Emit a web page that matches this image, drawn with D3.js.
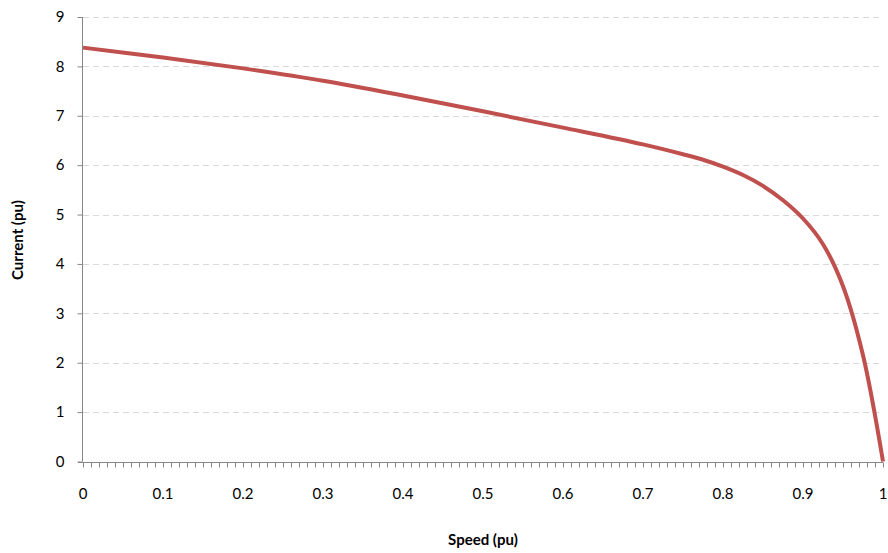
<!DOCTYPE html>
<html>
<head>
<meta charset="utf-8">
<script src="https://cdn.jsdelivr.net/npm/d3@7"></script>
<style>
  body { margin: 0; background: #fff; }
  svg text { font-family: Lato, "Open Sans", sans-serif; }
</style>
</head>
<body>
<div class="container"></div>
<script>
// speed / current
const speed   = [0, 0.1, 0.2, 0.3, 0.4, 0.5, 0.6, 0.7, 0.75, 0.775, 0.8, 0.825, 0.85, 0.875, 0.9, 0.925, 0.95, 0.975, 1.0];
const current = [8.38, 8.18, 7.96, 7.71, 7.41, 7.09, 6.76, 6.42, 6.22, 6.11, 5.97, 5.80, 5.58, 5.29, 4.92, 4.40, 3.55, 2.15, 0];
const xTicks = [0, 0.1, 0.2, 0.3, 0.4, 0.5, 0.6, 0.7, 0.8, 0.9, 1];
const yTicks = [0, 1, 2, 3, 4, 5, 6, 7, 8, 9];

const width = 888, height = 553,
    margin = {top: 17, right: 5, bottom: 91, left: 83};

const svg = d3.select('.container')
    .append('svg')
    .attr('width', width)
    .attr('height', height);

const xScale = d3.scaleLinear()
    .domain([0, 1])
    .range([margin.left, width - margin.right]);

const yScale = d3.scaleLinear()
    .domain([0, 9])
    .range([height - margin.bottom - 0.5, margin.top]);

// gridlines
svg.append('g')
    .selectAll('line')
    .data(yTicks.slice(1))
    .join('line')
    .attr('x1', xScale(0))
    .attr('x2', xScale(1))
    .attr('y1', d => Math.round(yScale(d)) + 0.5)
    .attr('y2', d => Math.round(yScale(d)) + 0.5)
    .attr('stroke', '#d9d9d9')
    .attr('stroke-width', 1)
    .attr('stroke-dasharray', '6,4');

// x axis with minor ticks every 0.01
const xAxis = d3.axisBottom(xScale)
    .tickValues(d3.range(0, 101).map(i => i / 100))
    .tickSize(5)
    .tickFormat('');

const gx = svg.append('g')
    .attr('transform', `translate(0,${Math.round(yScale(0)) + 0.5})`)
    .call(xAxis);
gx.select('.domain').attr('stroke', '#868686').attr('d', `M${xScale(0) - 5},0H${xScale(1)}`);
gx.selectAll('.tick line').attr('stroke', '#868686');

svg.append('g')
    .selectAll('text')
    .data(xTicks)
    .join('text')
    .attr('x', d => xScale(d))
    .attr('y', 499)
    .attr('text-anchor', 'middle')
    .attr('font-size', 15)
    .attr('fill', '#000')
    .text(d => d);

// y axis
const yAxis = d3.axisLeft(yScale)
    .tickValues(yTicks)
    .tickSize(5)
    .tickPadding(13)
    .tickFormat(d => d);

const gy = svg.append('g')
    .attr('transform', `translate(${Math.round(xScale(0)) - 0.5},0)`)
    .call(yAxis);
gy.select('.domain').attr('stroke', '#868686').attr('d', `M0,${yScale(9)}V${yScale(0)}`);
gy.selectAll('.tick line').attr('stroke', '#868686');
gy.selectAll('.tick text')
    .attr('font-size', 15)
    .attr('fill', '#000')
    .style('font-family', 'Lato, sans-serif');

// curve
const line = d3.line()
    .x((d, i) => xScale(speed[i]))
    .y(d => yScale(d))
    .curve(d3.curveCatmullRom.alpha(0.5));

svg.append('path')
    .datum(current)
    .attr('d', line)
    .attr('fill', 'none')
    .attr('stroke', '#c0504d')
    .attr('stroke-width', 4)
    .attr('stroke-linejoin', 'round');

// axis titles
svg.append('text')
    .attr('x', 483)
    .attr('y', 545)
    .attr('text-anchor', 'middle')
    .attr('font-size', 15)
    .attr('font-weight', 'bold')
    .text('Speed (pu)');

svg.append('text')
    .attr('transform', 'translate(23,240) rotate(-90)')
    .attr('text-anchor', 'middle')
    .attr('font-size', 15)
    .attr('font-weight', 'bold')
    .text('Current (pu)');
</script>
</body>
</html>
